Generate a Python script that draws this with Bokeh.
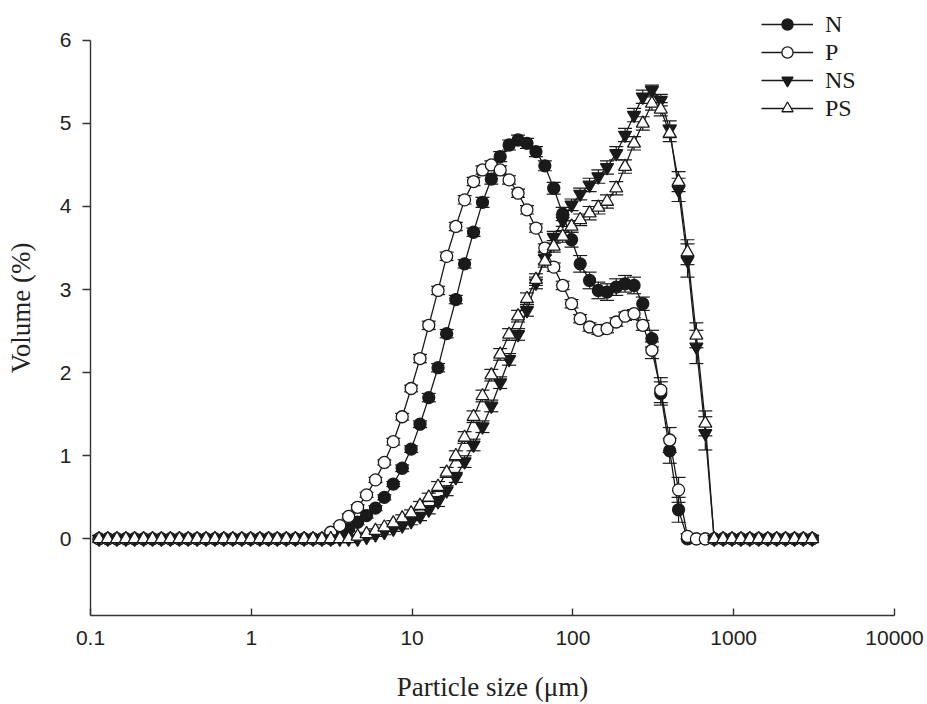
from bokeh.plotting import figure
from bokeh.models import (ColumnDataSource, Range1d, FixedTicker, CustomJSTickFormatter,
                          Whisker, TeeHead, Legend, LegendItem)
from bokeh.embed import file_html
from bokeh.resources import INLINE

# Particle size classes (um)
sizes = [0.113, 0.128, 0.146, 0.166, 0.188, 0.214, 0.243, 0.276, 0.314, 0.357,
         0.405, 0.46, 0.523, 0.594, 0.675, 0.767, 0.872, 0.991, 1.13, 1.28,
         1.45, 1.65, 1.88, 2.13, 2.42, 2.75, 3.12, 3.55, 4.03, 4.58,
         5.21, 5.92, 6.72, 7.64, 8.68, 9.86, 11.2, 12.7, 14.5, 16.4,
         18.7, 21.2, 24.1, 27.4, 31.1, 35.3, 40.1, 45.6, 51.8, 58.9,
         66.9, 76.0, 86.4, 98.1, 111, 127, 144, 163, 186, 211,
         240, 272, 310, 352, 400, 454, 516, 586, 666, 756,
         859, 976, 1110, 1260, 1430, 1630, 1850, 2100, 2390, 2710, 3080]

N = [0, 0, 0, 0, 0, 0, 0, 0, 0, 0,
     0, 0, 0, 0, 0, 0, 0, 0, 0, 0,
     0, 0, 0, 0, 0, 0, 0, 0.04, 0.12, 0.2,
     0.28, 0.37, 0.5, 0.66, 0.85, 1.08, 1.38, 1.7, 2.06, 2.47,
     2.88, 3.31, 3.69, 4.05, 4.33, 4.6, 4.74, 4.8, 4.76, 4.66,
     4.49, 4.22, 3.91, 3.6, 3.31, 3.11, 2.99, 2.97, 3.03, 3.07,
     3.05, 2.83, 2.41, 1.75, 1.06, 0.35, 0, 0, 0, 0,
     0, 0, 0, 0, 0, 0, 0, 0, 0, 0, 0]

P = [0, 0, 0, 0, 0, 0, 0, 0, 0, 0,
     0, 0, 0, 0, 0, 0, 0, 0, 0, 0,
     0, 0, 0, 0, 0, 0, 0.08, 0.16, 0.27, 0.38,
     0.53, 0.71, 0.92, 1.17, 1.47, 1.81, 2.17, 2.57, 2.99, 3.4,
     3.76, 4.08, 4.3, 4.44, 4.5, 4.44, 4.32, 4.16, 3.96, 3.74,
     3.5, 3.27, 3.05, 2.83, 2.65, 2.55, 2.51, 2.53, 2.61, 2.68,
     2.71, 2.57, 2.27, 1.79, 1.19, 0.59, 0.03, 0, 0, 0,
     0, 0, 0, 0, 0, 0, 0, 0, 0, 0, 0]

NS = [0, 0, 0, 0, 0, 0, 0, 0, 0, 0,
      0, 0, 0, 0, 0, 0, 0, 0, 0, 0,
      0, 0, 0, 0, 0, 0, 0, 0, 0, 0,
      0.02, 0.05, 0.08, 0.12, 0.16, 0.21, 0.27, 0.35, 0.45, 0.58,
      0.74, 0.93, 1.13, 1.35, 1.6, 1.88, 2.16, 2.46, 2.75, 3.08,
      3.38, 3.63, 3.83, 4.02, 4.15, 4.26, 4.36, 4.47, 4.64, 4.86,
      5.1, 5.32, 5.4, 5.28, 4.93, 4.2, 3.35, 2.31, 1.27, 0,
      0, 0, 0, 0, 0, 0, 0, 0, 0, 0, 0]

PS = [0, 0, 0, 0, 0, 0, 0, 0, 0, 0,
      0, 0, 0, 0, 0, 0, 0, 0, 0, 0,
      0, 0, 0, 0, 0, 0, 0, 0, 0, 0.03,
      0.06, 0.1, 0.14, 0.19, 0.25, 0.31, 0.4, 0.5, 0.63, 0.8,
      1.0, 1.22, 1.47, 1.72, 1.97, 2.22, 2.46, 2.68, 2.89, 3.12,
      3.34, 3.52, 3.64, 3.76, 3.84, 3.92, 3.99, 4.06, 4.22, 4.48,
      4.76, 5.0, 5.24, 5.17, 4.88, 4.3, 3.45, 2.45, 1.39, 0,
      0, 0, 0, 0, 0, 0, 0, 0, 0, 0, 0]

N_err = [0, 0, 0, 0, 0, 0, 0, 0, 0, 0,
         0, 0, 0, 0, 0, 0, 0, 0, 0, 0,
         0, 0, 0, 0, 0, 0, 0, 0.02, 0.03, 0.03,
         0.03, 0.03, 0.03, 0.03, 0.04, 0.04, 0.04, 0.05, 0.05, 0.05,
         0.05, 0.05, 0.05, 0.06, 0.06, 0.06, 0.06, 0.06, 0.06, 0.06,
         0.06, 0.07, 0.08, 0.09, 0.1, 0.1, 0.1, 0.1, 0.1, 0.1,
         0.1, 0.08, 0.1, 0.14, 0.15, 0.15, 0, 0, 0, 0,
         0, 0, 0, 0, 0, 0, 0, 0, 0, 0, 0]

P_err = [0, 0, 0, 0, 0, 0, 0, 0, 0, 0,
         0, 0, 0, 0, 0, 0, 0, 0, 0, 0,
         0, 0, 0, 0, 0, 0, 0.02, 0.02, 0.03, 0.03,
         0.03, 0.03, 0.03, 0.04, 0.04, 0.04, 0.05, 0.05, 0.05, 0.05,
         0.05, 0.05, 0.05, 0.05, 0.05, 0.05, 0.05, 0.05, 0.05, 0.05,
         0.05, 0.05, 0.05, 0.05, 0.05, 0.05, 0.05, 0.05, 0.05, 0.05,
         0.05, 0.06, 0.1, 0.15, 0.15, 0.15, 0.03, 0, 0, 0,
         0, 0, 0, 0, 0, 0, 0, 0, 0, 0, 0]

NS_err = [0, 0, 0, 0, 0, 0, 0, 0, 0, 0,
          0, 0, 0, 0, 0, 0, 0, 0, 0, 0,
          0, 0, 0, 0, 0, 0, 0, 0, 0, 0,
          0.02, 0.02, 0.03, 0.03, 0.04, 0.04, 0.05, 0.05, 0.06, 0.06,
          0.06, 0.07, 0.07, 0.07, 0.07, 0.07, 0.07, 0.07, 0.07, 0.07,
          0.07, 0.07, 0.07, 0.07, 0.07, 0.08, 0.08, 0.08, 0.08, 0.08,
          0.08, 0.08, 0.06, 0.07, 0.1, 0.14, 0.2, 0.2, 0.2, 0,
          0, 0, 0, 0, 0, 0, 0, 0, 0, 0, 0]

PS_err = [0, 0, 0, 0, 0, 0, 0, 0, 0, 0,
          0, 0, 0, 0, 0, 0, 0, 0, 0, 0,
          0, 0, 0, 0, 0, 0, 0, 0, 0, 0.02,
          0.02, 0.02, 0.03, 0.03, 0.04, 0.04, 0.05, 0.05, 0.06, 0.06,
          0.06, 0.07, 0.07, 0.07, 0.07, 0.07, 0.07, 0.07, 0.07, 0.07,
          0.07, 0.07, 0.07, 0.07, 0.07, 0.08, 0.08, 0.08, 0.08, 0.08,
          0.08, 0.08, 0.08, 0.08, 0.1, 0.12, 0.15, 0.15, 0.15, 0,
          0, 0, 0, 0, 0, 0, 0, 0, 0, 0, 0]

x_ticks = [0.1, 1, 10, 100, 1000, 10000]
y_ticks = [0, 1, 2, 3, 4, 5, 6]

INK = "#1a1a1a"
SERIF = "Liberation Serif"
SANS = "Liberation Sans"

p = figure(width=927, height=704, x_axis_type="log",
           x_range=Range1d(0.1, 10000), y_range=Range1d(-0.922, 6.479),
           output_backend="svg", toolbar_location=None,
           min_border_left=90, min_border_right=33, min_border_top=0, min_border_bottom=86)

p.outline_line_color = None
p.xgrid.visible = False
p.ygrid.visible = False
p.background_fill_color = "white"

series = [("N", N, N_err, "circle", INK, 12),
          ("P", P, P_err, "circle", "white", 12),
          ("NS", NS, NS_err, "inverted_triangle", INK, 13),
          ("PS", PS, PS_err, "triangle", "white", 13)]

items = []
for name, ys, errs, marker, fill, size in series:
    src = ColumnDataSource(dict(x=sizes, y=ys))
    ex = [x for x, e in zip(sizes, errs) if e > 0]
    eu = [y + e for y, e in zip(ys, errs) if e > 0]
    el = [y - e for y, e in zip(ys, errs) if e > 0]
    esrc = ColumnDataSource(dict(x=ex, upper=eu, lower=el))
    w = Whisker(source=esrc, base="x", upper="upper", lower="lower",
                line_color=INK, line_width=1.2, level="underlay",
                upper_head=TeeHead(size=14, line_color=INK, line_width=1.2),
                lower_head=TeeHead(size=14, line_color=INK, line_width=1.2))
    p.add_layout(w)
    lr = p.line("x", "y", source=src, line_color=INK, line_width=1.3)
    sr = p.scatter("x", "y", source=src, marker=marker, size=size,
                   fill_color=fill, line_color=INK, line_width=1.3)
    items.append(LegendItem(label=name, renderers=[lr, sr]))

legend = Legend(items=items, location=(671, 493), orientation="vertical",
                glyph_width=52, glyph_height=28, label_height=28, spacing=0,
                padding=0, margin=0, border_line_color=None,
                background_fill_alpha=0, label_standoff=12,
                label_text_font=SERIF, label_text_font_size="24px",
                label_text_color=INK)
p.add_layout(legend)

# x axis
xa = p.xaxis[0]
xa.ticker = FixedTicker(ticks=x_ticks)
xa.formatter = CustomJSTickFormatter(code="return tick < 1 ? tick.toFixed(1) : tick.toFixed(0);")
xa.minor_tick_line_color = None
xa.major_tick_in = 7
xa.major_tick_out = 0
xa.major_label_standoff = 15
xa.major_label_text_font = SANS
xa.major_label_text_font_size = "21px"
xa.major_label_text_color = "#222222"
xa.axis_line_color = "#333333"
xa.axis_line_width = 1.4
xa.major_tick_line_color = "#333333"
xa.major_tick_line_width = 1.4
xa.axis_label = "Particle size (μm)"
xa.axis_label_text_font = SERIF
xa.axis_label_text_font_size = "27px"
xa.axis_label_text_font_style = "normal"
xa.axis_label_text_color = "#222222"
xa.axis_label_standoff = 24

# y axis
ya = p.yaxis[0]
ya.ticker = FixedTicker(ticks=y_ticks)
ya.bounds = (-0.922, 6)
ya.minor_tick_line_color = None
ya.major_tick_in = 0
ya.major_tick_out = 8
ya.major_label_standoff = 11
ya.major_label_text_font = SANS
ya.major_label_text_font_size = "21px"
ya.major_label_text_color = "#222222"
ya.axis_line_color = "#333333"
ya.axis_line_width = 1.4
ya.major_tick_line_color = "#333333"
ya.major_tick_line_width = 1.4
ya.axis_label = "Volume (%)"
ya.axis_label_text_font = SERIF
ya.axis_label_text_font_size = "27px"
ya.axis_label_text_font_style = "normal"
ya.axis_label_text_color = "#222222"
ya.axis_label_standoff = 21

open("out.html", "w").write(file_html(p, INLINE))
